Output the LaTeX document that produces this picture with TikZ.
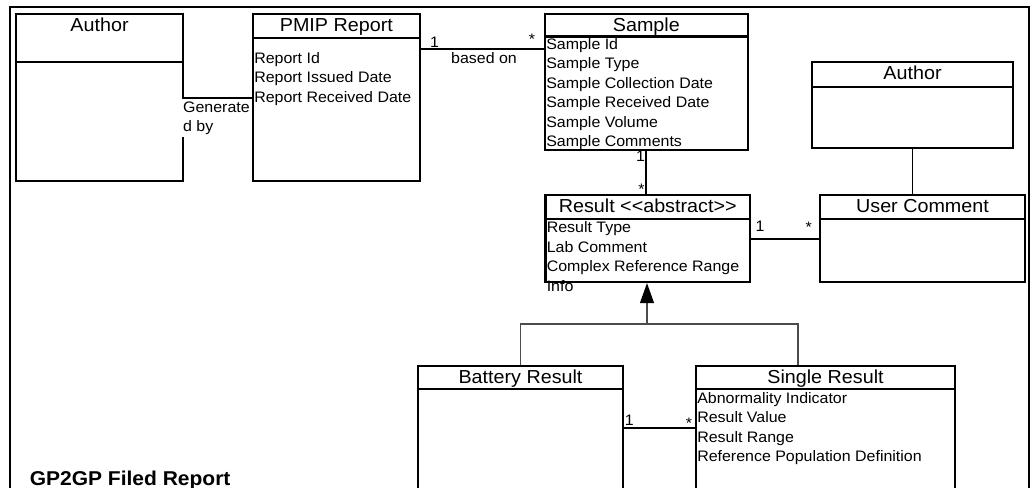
\documentclass[tikz,border=0pt]{standalone}
\usepackage{fontspec}
\setmainfont[FakeStretch=1.05]{Liberation Sans}
\usetikzlibrary{fit,arrows.meta}
\newcommand\umlclass[7]{%
  \node[classbox, fit={(#2,#3) (#4,#5)}] (#1) {};
  \draw[hdr] (#1.west |- 0,#6) -- (#1.east |- 0,#6);
  \node[ttl] (#1-title) at ([yshift=-13.9pt]#1.north) {#7};
}
\begin{document}
\begin{tikzpicture}[x=0.75pt,y=-0.75pt,
  classbox/.style={draw, line width=1.7pt, inner sep=0pt},
  hdr/.style={line width=1.7pt},
  conn/.style={line width=1.4pt},
  gen/.style={line width=0.8pt, draw=black!70},
  attr/.style={anchor=base west, inner sep=0pt, font=\fontsize{11.4}{13}\selectfont},
  ttl/.style={anchor=base, inner sep=0pt, font=\fontsize{14.1}{16}\selectfont},
  mult/.style={anchor=base, inner sep=0pt, font=\fontsize{11.4}{13}\selectfont}]
\useasboundingbox (0,0) rectangle (1035,488);
% outer frame (bottom edge lies outside the picture)
\draw[line width=1.7pt] (10,500) -- (10,7) -- (1029,7) -- (1029,500);

% classes
\umlclass{author1}{16}{14}{183}{181}{61.7}{Author}
\umlclass{pmip}{252.7}{14}{420}{181}{37.7}{PMIP Report}
\umlclass{sample}{545}{14}{747.7}{150}{36.6}{Sample}
\umlclass{author2}{812.3}{61.7}{1012.7}{148.3}{86.7}{Author}
\umlclass{result}{545.4}{195}{750}{282}{219}{Result <{}<abstract>{}>}
\umlclass{uc}{820}{195}{1025}{282}{219.3}{User Comment}
\umlclass{battery}{418}{366}{623}{520}{389}{Battery Result}
\umlclass{single}{696}{366}{955}{520}{389}{Single Result}

% attributes
\node[attr] (p1) at (254,63.5) {Report Id};
\node[attr] (p2) at (254,83) {Report Issued Date};
\node[attr] (p3) at (254,102.5) {Report Received Date};

\node[attr] (s1) at (546,49.5) {Sample Id};
\node[attr] (s2) at (546,69) {Sample Type};
\node[attr] (s3) at (546,88.5) {Sample Collection Date};
\node[attr] (s4) at (546,108) {Sample Received Date};
\node[attr] (s5) at (546,127.5) {Sample Volume};
\node[attr] (s6) at (546,147) {Sample Comments};

\node[attr] (r1) at (546.5,233) {Result Type};
\node[attr] (r2) at (546.5,252.5) {Lab Comment};
\node[attr] (r3) at (546.5,272) {Complex Reference Range};
\node[attr] (r4) at (546.5,291.5) {Info};

\node[attr] (g1) at (697,403) {Abnormality Indicator};
\node[attr] (g2) at (697,422.5) {Result Value};
\node[attr] (g3) at (697,442) {Result Range};
\node[attr] (g4) at (697,461.5) {Reference Population Definition};

% associations
\draw[conn] (author1.east |- 0,97.7) -- (pmip.west |- 0,97.7);
\node[anchor=north west, fill=white, inner xsep=0.7pt, inner ysep=2pt, align=left,
      font=\fontsize{11.4}{13.9}\selectfont] (genlbl) at (182,99.2) {Generate\\d by};

\draw[conn] (pmip.east |- 0,49.3) -- (sample.west |- 0,49.3);
\node[mult] (m1) at (434.5,47.5) {1};
\node[mult] (lbased) at (484,64) {based on};
\node[mult] (m2) at (532,44.5) {*};

\draw[conn] (sample.south) -- (sample.south |- result.north);
\node[mult] (m3) at (640.5,162) {1};
\node[mult] (m4) at (641.5,195) {*};

\draw[conn] (author2.south) -- (author2.south |- uc.north);

\draw[conn] (result.east |- 0,239) -- (uc.west |- 0,239);
\node[mult] (m5) at (760,232) {1};
\node[mult] (m6) at (808.6,232.2) {*};

\draw[conn] (battery.east |- 0,428.3) -- (single.west |- 0,428.3);
\node[mult] (m7) at (629.3,425) {1};
\node[mult] (m8) at (689,428.5) {*};

% generalization
\coordinate (gj) at (647,324);
\draw[gen] (battery.north) |- (gj) -| (single.north -| 798,0);
\draw[gen, -{Triangle[width=10.5pt, length=15pt, fill=black, color=black]}] (gj) -- (gj |- result.south);

% diagram title
\node[anchor=base west, inner sep=0pt, font=\fontsize{15}{17}\selectfont\bfseries] (title) at (29.5,485) {GP2GP Filed Report};
\end{tikzpicture}
\end{document}
